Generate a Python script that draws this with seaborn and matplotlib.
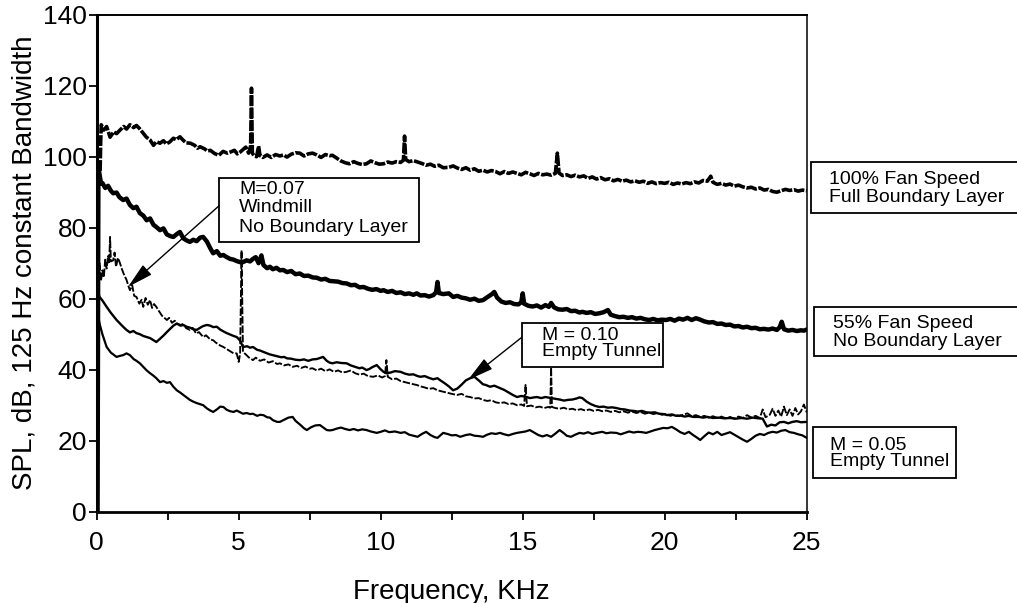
import matplotlib
matplotlib.use("Agg")
import matplotlib.pyplot as plt
import matplotlib.patches as mpatches
import matplotlib.transforms as mtransforms
import seaborn as sns
import pandas as pd

# ---------------------------------------------------------------------------
# Spectra: frequency (kHz) and SPL (dB, 125 Hz constant bandwidth)
# ---------------------------------------------------------------------------
FAN100_KHZ = [0.12, 0.14, 0.16, 0.25, 0.35, 0.47, 0.6, 0.7, 0.82, 0.95, 1.05, 1.17, 1.3, 1.4, 1.5,
              1.65, 1.75, 1.88, 2.0, 2.1, 2.23, 2.35, 2.45, 2.58, 2.7, 2.8, 2.93, 3.05, 3.15, 3.3,
              3.45, 3.55, 3.64, 3.8, 3.9, 4.0, 4.15, 4.3, 4.45, 4.6, 4.7, 4.85, 4.95, 5.05, 5.15,
              5.25, 5.35, 5.42, 5.45, 5.48, 5.55, 5.63, 5.7, 5.75, 5.85, 6.0, 6.15, 6.3, 6.45, 6.57,
              6.7, 6.85, 7.0, 7.15, 7.3, 7.45, 7.6, 7.75, 7.9, 8.05, 8.2, 8.3, 8.45, 8.6, 8.75,
              8.9, 9.05, 9.2, 9.35, 9.5, 9.65, 9.8, 9.95, 10.1, 10.25, 10.4, 10.55, 10.7, 10.8,
              10.84, 10.88, 11.0, 11.15, 11.3, 11.45, 11.6, 11.75, 11.9, 12.05, 12.2, 12.4, 12.55,
              12.7, 12.85, 13.0, 13.15, 13.3, 13.45, 13.6, 13.75, 13.9, 14.05, 14.2, 14.35, 14.5,
              14.65, 14.8, 14.95, 15.1, 15.25, 15.4, 15.55, 15.7, 15.85, 16.0, 16.15, 16.22, 16.28,
              16.4, 16.55, 16.7, 16.85, 17.0, 17.15, 17.3, 17.45, 17.6, 17.75, 17.9, 18.05, 18.2,
              18.35, 18.5, 18.65, 18.8, 18.95, 19.1, 19.25, 19.4, 19.55, 19.7, 19.85, 20.0, 20.15,
              20.3, 20.45, 20.6, 20.75, 20.9, 21.05, 21.2, 21.35, 21.5, 21.62, 21.7, 21.85, 22.0,
              22.15, 22.3, 22.45, 22.6, 22.75, 22.9, 23.05, 23.2, 23.35, 23.5, 23.65, 23.8, 23.95,
              24.1, 24.25, 24.4, 24.55, 24.7, 24.85, 25.0]
FAN100_DB = [96, 104, 109, 107.5, 108.5, 105.5, 107, 106.5, 107.5, 108.5, 107.8, 109, 108.2, 108.8, 108,
             106.5, 105.5, 104.7, 103.2, 104.2, 103.8, 104.5, 103.6, 104.2, 105.2, 104.8, 105.6, 104.6, 103.9, 103.8,
             103.2, 102.4, 102.8, 102.2, 101.6, 101.8, 100.9, 100.4, 101.5, 101.0, 101.3, 101.8, 100.8, 101.3, 102.0,
             102.7, 101.0, 103, 119.3, 101, 100.2, 100, 103, 100.3, 99.8, 100.5, 99.8, 100.6, 100.2, 100.5,
             99.9, 100.7, 101.1, 101, 100.2, 100.8, 101.0, 100.5, 99.8, 100.6, 100.3, 100.4, 99.6, 98.8, 98.3,
             98, 98.6, 98.1, 97.8, 98, 98.8, 98.3, 97.9, 98, 98.5, 98.2, 98.6, 98.4, 99,
             105.8, 99.2, 98.6, 98.9, 98.5, 98.1, 97.6, 97.9, 97.3, 97.6, 96.9, 97, 97.4,
             96.8, 96.4, 96.9, 96.2, 96.6, 95.9, 96.2, 95.7, 96.1, 95.8, 95.2, 95.8, 95.3,
             95.7, 95.3, 94.9, 95.6, 95.2, 94.7, 95.3, 94.9, 95.1, 94.8, 95.3, 101, 95.4,
             94.7, 94.9, 94.4, 94.8, 94.3, 94.6, 93.9, 94.3, 93.7, 94.1, 93.5, 93.8, 93.2,
             93.6, 93.1, 93.4, 92.9, 93.2, 92.8, 93.1, 92.5, 92.9, 92.4, 92.7, 92.5, 92.8,
             92.2, 92.6, 92.3, 92.7, 92.4, 92.9, 92.6, 93.3, 93.1, 94.5, 92.8, 92.2, 92.5,
             92.0, 92.3, 91.7, 92.0, 91.5, 91.2, 91.4, 90.9, 91.2, 90.6, 90.8, 90.2, 90.0,
             90.4, 90.8, 90.5, 90.7, 90.3, 90.6, 90.4]

FAN55_KHZ = [0.03, 0.06, 0.1, 0.15, 0.2, 0.3, 0.4, 0.5, 0.58, 0.7, 0.8, 0.93, 1.05, 1.17, 1.29, 1.4,
             1.52, 1.64, 1.76, 1.88, 2.0, 2.1, 2.23, 2.35, 2.47, 2.6, 2.7, 2.82, 2.93, 3.05, 3.17,
             3.28, 3.4, 3.52, 3.64, 3.75, 3.88, 4.0, 4.1, 4.23, 4.35, 4.46, 4.58, 4.7, 4.82, 4.93,
             5.05, 5.15, 5.28, 5.4, 5.5, 5.6, 5.7, 5.8, 5.87, 6.0, 6.1, 6.2, 6.33, 6.45, 6.57, 6.7,
             6.85, 7.0, 7.15, 7.3, 7.45, 7.6, 7.75, 7.9, 8.05, 8.2, 8.35, 8.5, 8.65, 8.8, 8.95, 9.1,
             9.25, 9.4, 9.55, 9.7, 9.85, 10.0, 10.1, 10.25, 10.4, 10.55, 10.7, 10.85, 11.0, 11.15,
             11.27, 11.4, 11.55, 11.7, 11.85, 11.95, 12.0, 12.05, 12.2, 12.4, 12.55, 12.7, 12.85,
             13.0, 13.15, 13.3, 13.45, 13.6, 13.75, 13.9, 14.0, 14.1, 14.25, 14.4, 14.55, 14.7,
             14.85, 14.95, 15.0, 15.05, 15.2, 15.35, 15.5, 15.65, 15.8, 15.92, 16.0, 16.1, 16.25,
             16.4, 16.55, 16.7, 16.85, 17.0, 17.1, 17.25, 17.4, 17.55, 17.7, 17.85, 18.0, 18.1,
             18.25, 18.4, 18.55, 18.7, 18.85, 19.0, 19.15, 19.3, 19.45, 19.6, 19.75, 19.9, 20.05,
             20.2, 20.35, 20.5, 20.65, 20.8, 20.95, 21.1, 21.25, 21.4, 21.55, 21.7, 21.85, 22.0,
             22.15, 22.3, 22.45, 22.6, 22.75, 22.9, 23.05, 23.2, 23.35, 23.5, 23.65, 23.8, 23.95,
             24.05, 24.12, 24.2, 24.35, 24.5, 24.65, 24.8, 24.9, 25.0]
FAN55_DB = [0, 97, 95, 92.5, 92.6, 91.2, 91.8, 90.4, 89.7, 89.9, 88.6, 87.8, 88.2, 86.4, 85.5, 85.9,
            84.1, 83.4, 82.1, 82.6, 80.8, 80.2, 79.3, 79.8, 78.1, 77.6, 77.4, 78.2, 78.8, 77.0, 76.4,
            76.0, 76.6, 76.2, 77.2, 77.4, 76.1, 74.2, 72.8, 73.4, 72.1, 72.3, 71.7, 71.2, 71.0, 70.6,
            70.3, 70.3, 70.8, 70.5, 71.2, 71.7, 70.0, 72.2, 69.5, 68.6, 69.0, 68.3, 68.7, 68.0, 68.1, 67.5,
            67.8, 66.9, 67.1, 66.4, 66.5, 66.0, 65.9, 65.4, 65.6, 65.0, 64.9, 64.8, 64.4, 64.3, 63.8, 63.9,
            63.2, 63.3, 62.8, 62.5, 62.7, 62.2, 62.4, 61.9, 62.2, 61.6, 61.8, 61.3, 61.5, 61.1,
            61.5, 60.9, 61.0, 60.6, 61.0, 61.8, 64.7, 61.6, 61.3, 61.5, 60.5, 60.8, 60.3,
            60.1, 59.7, 60.0, 59.4, 59.6, 60.4, 61.2, 61.9, 60.3, 59.2, 58.8, 59.0, 58.5,
            58.4, 59.0, 61.5, 58.6, 58.0, 57.8, 58.1, 57.5, 58.2, 57.7, 58.8, 57.6, 57.0,
            56.9, 57.1, 56.5, 56.6, 56.1, 56.3, 56.0, 56.2, 55.7, 55.9, 56.2, 56.8, 55.5,
            55.1, 54.8, 54.9, 54.6, 54.8, 54.4, 54.6, 54.2, 54.0, 54.3, 53.9, 54.1, 54.0,
            54.3, 53.8, 54.4, 54.1, 54.6, 54.0, 54.5, 54.1, 53.6, 53.3, 53.4, 52.9, 53.0,
            52.6, 52.7, 52.2, 52.3, 51.9, 52.1, 51.7, 51.8, 51.4, 51.5, 51.3, 51.6, 51.2,
            52.0, 53.5, 51.4, 51.0, 51.2, 50.9, 51.1, 51.0, 51.3]

WINDMILL_KHZ = [0.05, 0.1, 0.15, 0.2, 0.25, 0.3, 0.35, 0.4, 0.44, 0.47, 0.5, 0.58, 0.63, 0.68, 0.75,
                0.82, 0.88, 0.95, 1.05, 1.12, 1.17, 1.25, 1.32, 1.4, 1.5, 1.58, 1.64, 1.72, 1.8, 1.88,
                1.95, 2.02, 2.1, 2.2, 2.3, 2.4, 2.47, 2.55, 2.65, 2.75, 2.82, 2.95, 3.05, 3.15, 3.28,
                3.38, 3.5, 3.6, 3.75, 3.85, 4.0, 4.1, 4.2, 4.35, 4.46, 4.58, 4.7, 4.82, 4.93, 5.0,
                5.05, 5.1, 5.15, 5.25, 5.35, 5.5, 5.6, 5.75, 5.9, 6.05, 6.2, 6.35, 6.45, 6.6, 6.75,
                6.9, 7.05, 7.2, 7.35, 7.5, 7.6, 7.75, 7.9, 8.05, 8.2, 8.35, 8.5, 8.65, 8.8, 8.95,
                9.1, 9.25, 9.4, 9.55, 9.74, 9.9, 10.05, 10.15, 10.2, 10.25, 10.4, 10.55, 10.7, 10.85,
                11.0, 11.15, 11.27, 11.4, 11.55, 11.7, 11.85, 12.0, 12.15, 12.3, 12.4, 12.55, 12.7,
                12.85, 13.0, 13.15, 13.3, 13.45, 13.6, 13.75, 13.9, 14.05, 14.2, 14.35, 14.5, 14.65,
                14.8, 14.95, 15.05, 15.1, 15.15, 15.3, 15.45, 15.6, 15.75, 15.9, 15.97, 16.0, 16.03,
                16.15, 16.3, 16.45, 16.6, 16.75, 16.9, 17.05, 17.2, 17.35, 17.5, 17.65, 17.8, 17.95,
                18.1, 18.25, 18.4, 18.55, 18.7, 18.85, 19.0, 19.15, 19.3, 19.45, 19.6, 19.75, 19.9,
                20.05, 20.2, 20.35, 20.5, 20.65, 20.8, 20.95, 21.1, 21.25, 21.4, 21.55, 21.7, 21.85,
                22.0, 22.15, 22.3, 22.45, 22.6, 22.75, 22.9, 23.05, 23.2, 23.35, 23.45, 23.55, 23.7,
                23.8, 23.9, 24.0, 24.1, 24.2, 24.3, 24.4, 24.5, 24.6, 24.7, 24.8, 24.9, 25.0]
WINDMILL_DB = [62, 70, 65, 68, 66, 71, 68.5, 72, 70, 77.4, 70.5, 70.8, 73, 69, 71.5,
               70, 68.5, 67, 65.3, 63.5, 62.4, 63.8, 60.8, 60.5, 58.6, 59.7, 57.7, 60.2, 58.3, 59.6,
               57.4, 58.5, 57.7, 56.4, 55.2, 54.5, 54.0, 54.6, 53.2, 53.8, 53.0, 52.6, 52.9, 51.7, 51.2,
               51.8, 50.2, 50.6, 49.2, 49.7, 48.5, 48.3, 47.6, 46.8, 46.4, 45.8, 45.2, 44.6, 44.6, 42.2,
               44.5, 73.6, 45.0, 44.3, 43.5, 42.7, 43.4, 42.5, 42.9, 42.0, 42.4, 41.6, 41.8, 41.2, 41.5,
               40.8, 41.1, 40.5, 40.9, 40.3, 40.4, 39.8, 40.3, 39.6, 40.1, 39.4, 39.8, 39.2, 39.4, 39.8,
               39.0, 38.6, 38.9, 38.2, 38.0, 38.4, 37.8, 38.2, 42.7, 38.0, 37.3, 37.5, 36.8, 36.5,
               36.2, 35.9, 35.7, 35.3, 35.0, 34.6, 34.8, 34.2, 33.9, 33.6, 33.4, 33.1, 32.9,
               33.2, 32.5, 32.3, 31.9, 32.0, 31.5, 31.2, 31.4, 30.8, 30.6, 30.8, 30.3, 30.5,
               30.0, 30.2, 29.8, 35.7, 29.7, 29.9, 29.4, 29.6, 29.2, 29.5, 29.3, 40.6, 29.5,
               29.2, 29.0, 29.3, 28.8, 29.0, 28.6, 28.9, 28.5, 28.8, 28.4, 28.7, 28.3, 28.5,
               28.1, 28.4, 28.0, 28.3, 27.9, 28.2, 27.8, 28.1, 27.6, 27.9, 27.5, 27.8, 27.3,
               27.6, 27.0, 27.4, 26.9, 27.3, 27.7, 26.9, 27.2, 26.7, 27.0, 26.5, 26.9, 26.4,
               26.8, 26.3, 26.7, 26.2, 26.8, 26.4, 27.2, 26.5, 27.0, 26.4, 28.8, 26.6, 27.3,
               29.0, 27.0, 28.5, 26.8, 29.6, 27.2, 28.8, 27.0, 29.2, 27.4, 28.3, 30.2, 28.0]

M010_KHZ = [0.04, 0.1, 0.2, 0.35, 0.5, 0.6, 0.7, 0.82, 0.93, 1.05, 1.17, 1.29, 1.4, 1.52, 1.64, 1.76,
            1.88, 2.0, 2.1, 2.2, 2.35, 2.47, 2.6, 2.7, 2.82, 2.95, 3.05, 3.17, 3.3, 3.4, 3.52, 3.64,
            3.75, 3.88, 4.0, 4.1, 4.23, 4.35, 4.46, 4.58, 4.7, 4.82, 4.93, 5.05, 5.15, 5.3, 5.4, 5.5,
            5.65, 5.75, 5.87, 6.0, 6.1, 6.2, 6.35, 6.5, 6.6, 6.7, 6.85, 7.0, 7.16, 7.3, 7.45, 7.6,
            7.75, 7.9, 7.97, 8.1, 8.2, 8.3, 8.45, 8.6, 8.8, 8.95, 9.1, 9.25, 9.35, 9.5, 9.6, 9.7,
            9.86, 10.0, 10.1, 10.2, 10.35, 10.5, 10.7, 10.85, 11.0, 11.15, 11.3, 11.4, 11.55, 11.7,
            11.85, 12.0, 12.1, 12.25, 12.4, 12.55, 12.7, 12.85, 13.0, 13.15, 13.3, 13.45, 13.6,
            13.7, 13.85, 14.0, 14.2, 14.35, 14.5, 14.65, 14.8, 14.95, 15.1, 15.25, 15.4, 15.5,
            15.65, 15.8, 16.0, 16.15, 16.3, 16.45, 16.6, 16.75, 16.9, 17.0, 17.1, 17.25, 17.4,
            17.55, 17.7, 17.85, 18.0, 18.15, 18.3, 18.45, 18.6, 18.75, 18.9, 19.05, 19.2, 19.35,
            19.5, 19.65, 19.8, 19.95, 20.1, 20.25, 20.4, 20.55, 20.7, 20.85, 21.0, 21.2, 21.35,
            21.5, 21.7, 21.9, 22.1, 22.3, 22.5, 22.7, 22.9, 23.1, 23.3, 23.45, 23.6, 23.75, 23.9,
            24.05, 24.2, 24.35, 24.5, 24.65, 24.8, 25.0]
M010_DB = [62, 60.5, 59.5, 57.7, 56.0, 55.0, 54.0, 53.0, 52.1, 51.2, 50.5, 50.9, 50.3, 50.0, 49.5, 49.2,
           48.9, 48.3, 47.8, 48.5, 49.6, 50.6, 51.6, 52.4, 53.0, 52.4, 52.6, 52.1, 51.8, 51.4, 51.2, 51.8,
           52.3, 52.6, 52.4, 52.0, 52.1, 51.3, 50.8, 50.3, 49.9, 49.5, 49.2, 48.2, 46.4, 46.6, 46.2, 46.4,
           45.6, 45.4, 45.0, 44.6, 44.3, 44.1, 43.8, 43.5, 43.6, 43.2, 43.1, 42.8, 42.7, 42.9, 42.5, 42.9,
           43.0, 43.4, 43.6, 42.5, 42.0, 41.8, 42.1, 41.9, 41.8, 41.2, 40.8, 40.4, 40.6, 39.9, 40.2, 40.7,
           41.3, 40.1, 39.4, 39.0, 39.2, 39.6, 39.4, 38.9, 38.6, 38.7, 38.2, 38.0, 38.2, 37.7,
           37.3, 37.6, 37.0, 36.2, 35.3, 34.2, 34.7, 35.8, 37.0, 37.6, 38.0, 37.0, 35.9,
           35.7, 35.2, 35.5, 34.8, 34.3, 33.6, 32.9, 32.3, 32.6, 32.4, 32.0, 32.2, 32.3,
           32.0, 32.3, 32.0, 31.8, 31.6, 31.3, 31.5, 31.6, 31.9, 32.2, 32.0, 31.0, 30.3,
           29.8, 29.5, 29.6, 29.3, 29.4, 29.2, 28.9, 28.8, 28.5, 28.4, 28.2, 28.4, 28.0,
           27.9, 28.0, 27.6, 27.5, 27.2, 27.4, 27.0, 27.1, 26.8, 27.0, 26.7, 26.7, 26.5,
           26.7, 26.4, 26.5, 26.3, 26.4, 26.2, 26.4, 26.2, 26.5, 26.3, 26.2, 24.0, 24.5, 24.3,
           25.2, 25.3, 24.9, 25.3, 25.5, 25.2, 25.3]

M005_KHZ = [0.03, 0.1, 0.2, 0.35, 0.5, 0.7, 0.82, 0.93, 1.05, 1.17, 1.3, 1.4, 1.52, 1.64, 1.76, 1.88,
            2.0, 2.1, 2.23, 2.35, 2.47, 2.58, 2.7, 2.82, 2.95, 3.05, 3.17, 3.28, 3.4, 3.52, 3.64,
            3.75, 3.88, 4.0, 4.1, 4.23, 4.35, 4.46, 4.58, 4.7, 4.82, 4.93, 5.05, 5.15, 5.28, 5.4,
            5.5, 5.65, 5.75, 5.87, 6.0, 6.1, 6.2, 6.35, 6.45, 6.6, 6.75, 6.9, 7.0, 7.15, 7.3, 7.4,
            7.55, 7.7, 7.86, 8.0, 8.1, 8.2, 8.3, 8.45, 8.6, 8.75, 8.9, 9.05, 9.2, 9.35, 9.5, 9.65,
            9.86, 10.0, 10.15, 10.3, 10.5, 10.7, 10.85, 11.0, 11.15, 11.3, 11.45, 11.6, 11.75, 11.9,
            12.0, 12.1, 12.2, 12.35, 12.5, 12.65, 12.8, 13.0, 13.15, 13.3, 13.45, 13.6, 13.75,
            13.9, 14.05, 14.2, 14.35, 14.5, 14.65, 14.8, 14.95, 15.1, 15.25, 15.4, 15.55, 15.7,
            15.85, 16.0, 16.15, 16.3, 16.45, 16.55, 16.7, 16.85, 17.0, 17.15, 17.3, 17.45, 17.6,
            17.8, 17.95, 18.1, 18.3, 18.45, 18.6, 18.75, 18.9, 19.05, 19.2, 19.35, 19.5, 19.65,
            19.8, 19.95, 20.1, 20.25, 20.4, 20.55, 20.7, 20.85, 21.0, 21.15, 21.25, 21.4, 21.55,
            21.7, 21.85, 22.0, 22.15, 22.3, 22.45, 22.6, 22.75, 22.9, 23.05, 23.2, 23.35, 23.5,
            23.65, 23.8, 23.95, 24.1, 24.25, 24.4, 24.55, 24.7, 24.85, 25.0]
M005_DB = [56, 53, 50, 46.4, 44.8, 43.6, 43.9, 44.1, 44.6, 44.1, 43.0, 42.5, 41.8, 40.8, 39.8, 39.0,
           38.3, 37.6, 36.5, 36.8, 36.3, 36.5, 35.2, 34.2, 33.5, 32.9, 32.2, 31.5, 31.0, 30.6, 30.3,
           30.0, 29.1, 28.5, 28.1, 28.8, 29.6, 29.5, 28.7, 28.3, 28.1, 28.5, 28.0, 27.6, 27.8, 27.5,
           27.6, 27.0, 27.3, 27.2, 26.6, 26.5, 25.8, 25.3, 25.3, 25.9, 26.5, 26.7, 25.6, 24.6, 23.5, 23.0,
           23.8, 24.3, 24.4, 23.6, 23.0, 22.9, 23.0, 23.4, 23.7, 23.3, 23.0, 23.3, 22.9, 23.2, 23.0, 22.6,
           22.2, 22.5, 22.9, 22.4, 22.6, 22.2, 22.4, 21.7, 21.4, 21.1, 21.9, 22.5, 21.6, 21.0,
           20.8, 21.5, 22.2, 21.9, 21.5, 21.6, 21.1, 21.6, 21.8, 21.4, 21.3, 21.1, 21.7,
           22.1, 21.9, 22.2, 21.8, 21.5, 21.9, 22.2, 22.4, 22.6, 23.0, 22.3, 21.6, 21.2,
           21.6, 21.1, 22.0, 23.0, 22.1, 21.4, 21.1, 21.7, 22.2, 22.0, 22.4, 21.9, 22.2,
           22.5, 22.1, 22.3, 22.2, 21.8, 22.2, 22.6, 22.3, 22.5, 22.4, 22.2, 22.6, 23.0,
           23.3, 23.6, 23.5, 23.9, 23.2, 22.4, 21.9, 22.5, 21.6, 20.8, 20.2, 21.3, 22.3,
           21.8, 22.5, 21.6, 22.0, 22.4, 21.7, 21.0, 20.3, 19.7, 20.5, 21.4, 21.9, 21.6,
           22.2, 22.5, 22.3, 22.8, 23.0, 22.4, 22.2, 21.8, 21.5, 20.8]

X_TICKS = [0, 5, 10, 15, 20, 25]
X_MINOR = [2.5, 7.5, 12.5, 17.5, 22.5]
Y_TICKS = [0, 20, 40, 60, 80, 100, 120, 140]

# ---------------------------------------------------------------------------
sns.set_theme(style="ticks")
plt.rcParams["font.family"] = ["Liberation Sans", "DejaVu Sans"]

W, H = 1017, 603
fig = plt.figure(figsize=(W / 100, H / 100), dpi=100)
ax = fig.add_axes([96.7 / W, 1 - 511.7 / H, 710 / W, 497 / H])

# (series name, frequencies, levels, line width, dash pattern)
series = [
    ("100% fan", FAN100_KHZ, FAN100_DB, 2.6, (3.0, 0.45)),
    ("55% fan", FAN55_KHZ, FAN55_DB, 3.2, None),
    ("windmill", WINDMILL_KHZ, WINDMILL_DB, 1.35, (4.0, 1.0)),
    ("M=0.10", M010_KHZ, M010_DB, 1.7, None),
    ("M=0.05", M005_KHZ, M005_DB, 1.6, None),
]

for name, fx, lv, lw, dash in series:
    df = pd.DataFrame({"Frequency": fx, "SPL": lv})
    sns.lineplot(data=df, x="Frequency", y="SPL", ax=ax, color="black",
                 linewidth=lw, estimator=None, sort=False, legend=False)
    line = ax.lines[-1]
    line.set_solid_joinstyle("round")
    if dash is not None:
        line.set_dashes(dash)

ax.set_xlim(0, 25)
ax.set_ylim(0, 140)
ax.set_xticks(X_TICKS)
ax.set_xticks(X_MINOR, minor=True)
ax.set_yticks(Y_TICKS)
ax.set_xticklabels([str(t) for t in X_TICKS])
ax.set_yticklabels([str(t) for t in Y_TICKS])
ax.tick_params(axis="x", which="both", direction="out", length=6, width=1.3,
               color="black", labelsize=19, pad=8, labelcolor="black")
ax.tick_params(axis="y", which="both", direction="out", length=6, width=1.3,
               color="black", labelsize=19, pad=1, labelcolor="black")
ax.set_xlabel("Frequency, KHz", fontsize=20, color="black", labelpad=17)
ax.set_ylabel("SPL, dB, 125 Hz constant Bandwidth", fontsize=20, color="black", labelpad=4)

for side, lw in (("left", 2.2), ("bottom", 2.0), ("top", 1.4), ("right", 1.1)):
    ax.spines[side].set_visible(True)
    ax.spines[side].set_color("black")
    ax.spines[side].set_linewidth(lw)
ax.grid(False)

# pixel coordinates measured from the top-left corner of the figure
pix = mtransforms.Affine2D().scale(1 / W, -1 / H).translate(0, 1) + fig.transFigure


def label_box(x0, y0, x1, y1, tx, lines, ys, size=14):
    rect = mpatches.Rectangle((x0, y0), x1 - x0, y1 - y0, transform=pix,
                              facecolor="white", edgecolor="black", linewidth=1.3,
                              zorder=5, clip_on=False)
    fig.add_artist(rect)
    for text, yy in zip(lines, ys):
        fig.text(tx, yy, text, transform=pix, ha="left", va="center",
                 fontsize=size, color="black", zorder=6)


label_box(219, 178, 419, 242, 239, ["M=0.07", "Windmill", "No Boundary Layer"], [190, 208, 227])
label_box(522, 323, 663, 367, 542, ["M = 0.10", "Empty Tunnel"], [335, 352])
label_box(811, 162, 1030, 213, 829, ["100% Fan Speed", "Full Boundary Layer"], [179, 198])
label_box(814, 307, 1030, 356, 833, ["55% Fan Speed", "No Boundary Layer"], [323, 341])
label_box(813, 427, 956, 478, 830, ["M = 0.05", "Empty Tunnel"], [445, 462])

arrow = dict(arrowstyle="-|>,head_length=0.8,head_width=0.2", color="black",
             lw=1.0, shrinkA=0, shrinkB=0, mutation_scale=20)
ax.annotate("", xy=(1.1, 63.3), xytext=(4.34, 86.4), arrowprops=arrow, zorder=7)
ax.annotate("", xy=(13.07, 37.1), xytext=(14.98, 49.2), arrowprops=arrow, zorder=7)

fig.savefig("out.png", dpi=100, facecolor="white")
